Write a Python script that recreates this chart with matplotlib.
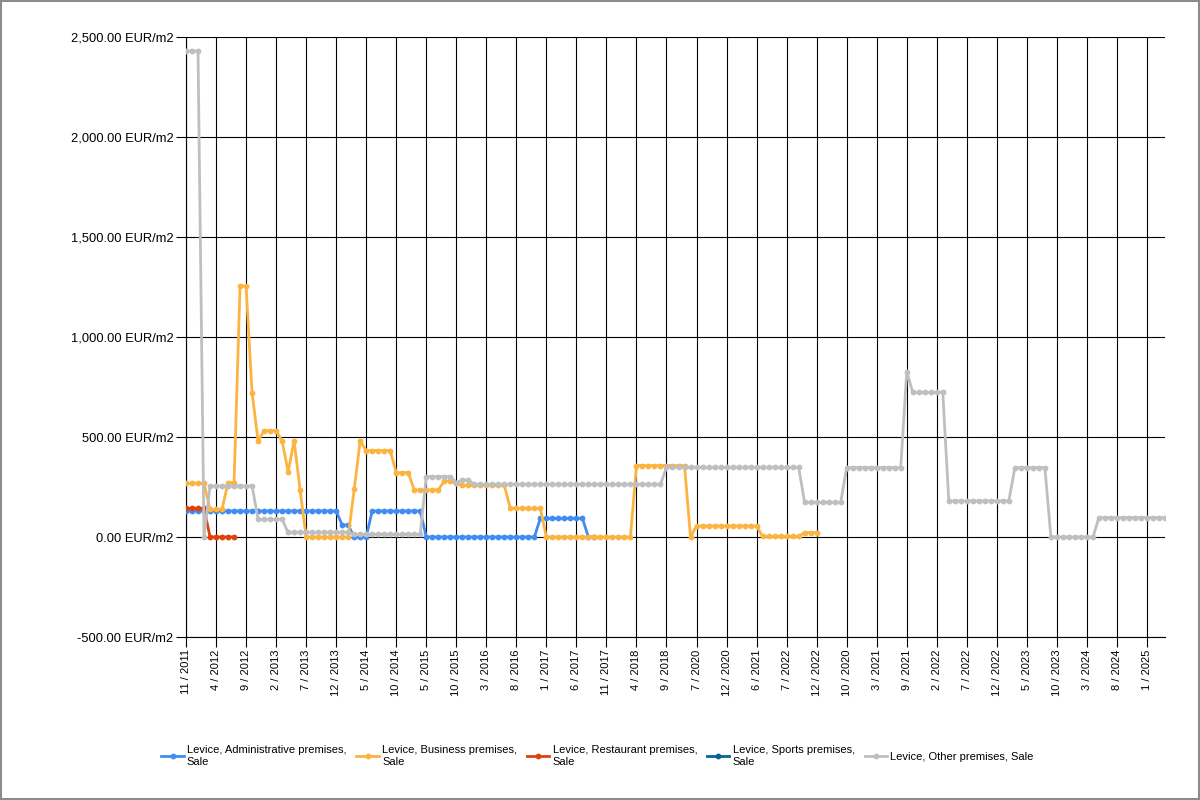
import numpy as np
import matplotlib
matplotlib.use("Agg")
import matplotlib.pyplot as plt
from matplotlib.patches import Rectangle
from matplotlib.ticker import FuncFormatter, MultipleLocator

plt.rcParams['font.family'] = ['Liberation Sans', 'DejaVu Sans']

tick_labels = ["11 / 2011", "4 / 2012", "9 / 2012", "2 / 2013", "7 / 2013", "12 / 2013",
               "5 / 2014", "10 / 2014", "5 / 2015", "10 / 2015", "3 / 2016", "8 / 2016",
               "1 / 2017", "6 / 2017", "11 / 2017", "4 / 2018", "9 / 2018", "7 / 2020",
               "12 / 2020", "6 / 2021", "7 / 2022", "12 / 2022", "10 / 2020", "3 / 2021",
               "9 / 2021", "2 / 2022", "7 / 2022", "12 / 2022", "5 / 2023", "10 / 2023",
               "3 / 2024", "8 / 2024", "1 / 2025"]

n_points = 164

administrative = ([130] * 26 + [60] * 2 + [0] * 3 + [130] * 9 + [0] * 19 +
                  [93] * 8 + [0] * 2)
business = ([268] * 4 + [138] * 3 + [272] * 2 + [1255] * 2 + [722, 480] +
            [532] * 3 + [480, 327, 480, 235] + [0] * 8 + [238, 480] + [432] * 5 +
            [322] * 3 + [235] * 5 + [280] * 2 + [268] + [258] * 8 + [143] * 6 +
            [0] * 15 + [357] * 9 + [0] + [55] * 11 + [3] * 7 + [22] * 3)
restaurant = [143] * 4 + [0] * 5
sports = []
other = ([2430] * 3 + [0] + [255] * 8 + [88] * 5 + [23] * 11 + [13] * 12 +
         [302] * 5 + [272] + [285] * 2 + [263] * 32 + [348] * 23 + [173] * 7 +
         [347] * 10 + [827] + [723] * 6 + [180] * 11 + [347] * 6 + [0] * 8 + [97] * 12)

series = [
    ("Levice, Administrative premises,\nSale", administrative, "#418CF0"),
    ("Levice, Business premises,\nSale", business, "#FCB441"),
    ("Levice, Restaurant premises,\nSale", restaurant, "#E0400A"),
    ("Levice, Sports premises,\nSale", sports, "#056492"),
    ("Levice, Other premises, Sale", other, "#BFBFBF"),
]

fig = plt.figure(figsize=(12, 8), dpi=100)
ax = fig.add_axes([186 / 1200, 1 - 637 / 800, (1165 - 186) / 1200, 600 / 800])

handles = []
for name, vals, col in series:
    x = np.arange(len(vals))
    h, = ax.plot(x, vals, color=col, lw=2.0, marker='o', ms=4.2,
                 markeredgewidth=0, label=name, zorder=3)
    handles.append(h)

ax.set_xlim(0, n_points - 1)
ax.set_ylim(-500, 2500)
ax.yaxis.set_major_locator(MultipleLocator(500))
ax.yaxis.set_major_formatter(FuncFormatter(lambda v, p: f"{v:,.2f} EUR/m2"))
ax.set_xticks(np.arange(0, len(tick_labels) * 5, 5))
ax.set_xticklabels(tick_labels, rotation=90, fontsize=8)
for lab in ax.get_yticklabels():
    lab.set_fontsize(9.3)
ax.grid(True, color='black', lw=0.8, zorder=1)
ax.set_axisbelow(True)
ax.tick_params(axis='both', direction='out', length=7, width=0.8, color='black')
ax.tick_params(axis='y', pad=2)
ax.tick_params(axis='x', pad=2)
for s in ['top', 'right']:
    ax.spines[s].set_visible(False)
for s in ['left', 'bottom']:
    ax.spines[s].set_color('black')
    ax.spines[s].set_linewidth(0.8)

leg = fig.legend(handles=handles, loc='center', bbox_to_anchor=(0.498, 1 - 756 / 800),
                 ncol=5, frameon=False, fontsize=8, handlelength=2.0,
                 handletextpad=0.3, columnspacing=0.9, labelspacing=0.2)

fig.patches.append(Rectangle((0.001, 0.001), 0.998, 0.998, transform=fig.transFigure,
                             fill=False, edgecolor='#8c8c8c', lw=1.5))

fig.savefig("out.png", dpi=100, facecolor='white')
